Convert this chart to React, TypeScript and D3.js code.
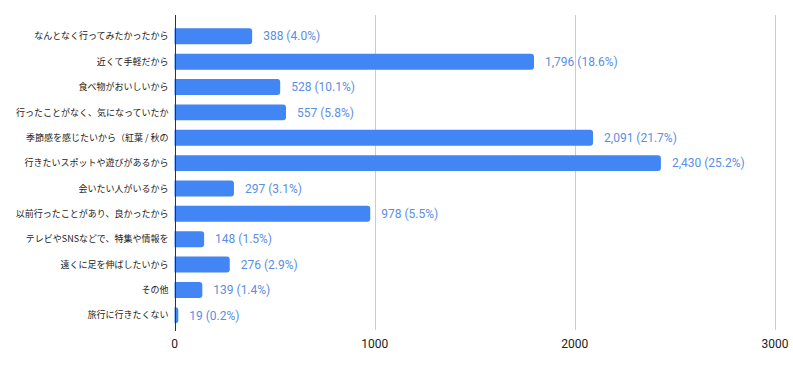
import React, { useEffect, useRef } from 'react';
import * as d3 from 'd3';

const categories = [
  'なんとなく行ってみたかったから',
  '近くて手軽だから',
  '食べ物がおいしいから',
  '行ったことがなく、気になっていたか',
  '季節感を感じたいから（紅葉 / 秋の',
  '行きたいスポットや遊びがあるから',
  '会いたい人がいるから',
  '以前行ったことがあり、良かったから',
  'テレビやSNSなどで、特集や情報を',
  '遠くに足を伸ばしたいから',
  'その他',
  '旅行に行きたくない',
];
const counts = [388, 1796, 528, 557, 2091, 2430, 297, 978, 148, 276, 139, 19];
const percents = ['4.0', '18.6', '10.1', '5.8', '21.7', '25.2', '3.1', '5.5', '1.5', '2.9', '1.4', '0.2'];
const xTicks = [0, 1000, 2000, 3000];

function Chart() {
  const ref = useRef<SVGSVGElement>(null);

  useEffect(() => {
    const width = 793;
    const height = 371;
    const left = 174.5;
    const right = 775;
    const top = 15;
    const bottom = 330;

    const svg = d3.select(ref.current).attr('width', width).attr('height', height);
    svg.selectAll('*').remove();

    const x = d3.scaleLinear().domain([0, 3000]).range([left, right]);
    const y = d3.scaleBand().domain(categories).range([23.6, 328]).paddingInner(0.37).paddingOuter(0.185);

    // gridlines
    svg.append('g')
      .selectAll('line')
      .data(xTicks.slice(1))
      .enter()
      .append('line')
      .attr('x1', d => Math.round(x(d)) + 0.5)
      .attr('x2', d => Math.round(x(d)) + 0.5)
      .attr('y1', top)
      .attr('y2', bottom)
      .attr('stroke', '#cccccc');

    const data = categories.map((c, i) => ({ c, v: counts[i], p: percents[i] }));

    svg.append('g')
      .selectAll('path')
      .data(data)
      .enter()
      .append('path')
      .attr('d', d => {
        const x0 = x(0);
        const x1 = x(d.v);
        const y0 = y(d.c)!;
        const h = y.bandwidth();
        const r = Math.min(3, x1 - x0);
        return `M${x0},${y0}H${x1 - r}Q${x1},${y0} ${x1},${y0 + r}V${y0 + h - r}Q${x1},${y0 + h} ${x1 - r},${y0 + h}H${x0}Z`;
      })
      .attr('fill', '#4285f4');

    svg.append('g')
      .selectAll('text')
      .data(data)
      .enter()
      .append('text')
      .attr('x', d => x(d.v) + 11)
      .attr('y', d => y(d.c)! + y.bandwidth() / 2)
      .attr('dy', '0.35em')
      .attr('font-family', 'Roboto')
      .attr('font-size', 12)
      .attr('fill', '#5b8ee4')
      .text(d => `${d3.format(',')(d.v)} (${d.p}%)`);

    // category labels
    svg.append('g')
      .selectAll('text')
      .data(categories)
      .enter()
      .append('text')
      .attr('x', left - 6)
      .attr('y', d => y(d)! + y.bandwidth() / 2)
      .attr('dy', '0.35em')
      .attr('text-anchor', 'end')
      .attr('font-family', 'Noto Sans CJK JP')
      .attr('font-size', 9)
      .attr('fill', '#222222')
      .text(d => d);

    // axis line
    svg.append('line')
      .attr('x1', Math.round(left) + 0.5)
      .attr('x2', Math.round(left) + 0.5)
      .attr('y1', top)
      .attr('y2', bottom + 1)
      .attr('stroke', '#333333');

    svg.append('g')
      .selectAll('text')
      .data(xTicks)
      .enter()
      .append('text')
      .attr('x', d => x(d))
      .attr('y', 344)
      .attr('dy', '0.35em')
      .attr('text-anchor', 'middle')
      .attr('font-family', 'Roboto')
      .attr('font-size', 12)
      .attr('fill', '#222222')
      .text(d => String(d));
  }, []);

  return <svg ref={ref} style={{ position: 'absolute', left: 0, top: 0 }} />;
}

export default function App() {
  return <Chart />;
}
